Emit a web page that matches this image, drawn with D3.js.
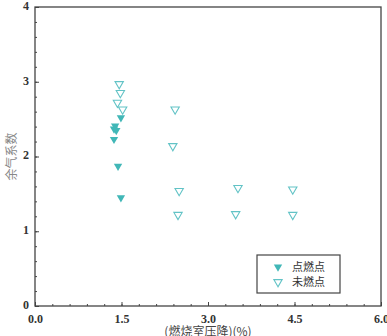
<!DOCTYPE html>
<html>
<head>
<meta charset="utf-8">
<script src="https://cdn.jsdelivr.net/npm/d3@7"></script>
<style>
  body { margin: 0; background: #fff; }
  svg { display: block; }
</style>
</head>
<body>
<script>
// chart size
let w = 387;
let h = 336;
let margin = {top: 7, right: 6, bottom: 30, left: 35};

// data
let ignitedX = [1.49, 1.39, 1.37, 1.41, 1.37, 1.44, 1.49];
let ignitedY = [2.52, 2.41, 2.37, 2.35, 2.23, 1.87, 1.45];
let unlitX = [1.46, 1.48, 1.43, 1.52, 2.43, 2.39, 2.5, 2.48, 3.52, 3.48, 4.47, 4.47];
let unlitY = [2.97, 2.85, 2.72, 2.63, 2.63, 2.14, 1.54, 1.22, 1.58, 1.23, 1.56, 1.22];
let xTicks = [0, 1.5, 3.0, 4.5, 6.0];
let yTicks = [0, 1, 2, 3, 4];
let legendNames = ["点燃点", "未燃点"];

let teal = "#41b7b7";
let lightTeal = "#62c3c6";
let serif = "'Liberation Serif', 'DejaVu Serif', serif";

let svg = d3.select("body")
    .append("svg")
    .attr("width", w)
    .attr("height", h);

let x = d3.scaleLinear().domain([0, 6]).range([margin.left, w - margin.right]);
let y = d3.scaleLinear().domain([0, 4]).range([h - margin.bottom, margin.top]);

// minor ticks (inside)
let xMinor = d3.range(0, 6.001, 0.3);
let yMinor = d3.range(0, 4.001, 0.2);

svg.append("g")
    .attr("transform", "translate(0," + y(0) + ")")
    .call(d3.axisBottom(x).tickValues(xMinor).tickSizeInner(-2).tickSizeOuter(0).tickFormat(""))
    .call(g => g.select(".domain").remove());
svg.append("g")
    .attr("transform", "translate(" + x(0) + ",0)")
    .call(d3.axisLeft(y).tickValues(yMinor).tickSizeInner(-2).tickSizeOuter(0).tickFormat(""))
    .call(g => g.select(".domain").remove());

// major ticks with labels
let xAxis = svg.append("g")
    .attr("transform", "translate(0," + y(0) + ")")
    .call(d3.axisBottom(x).tickValues(xTicks).tickSizeInner(-4).tickSizeOuter(0)
        .tickPadding(8).tickFormat(d3.format(".1f")));
let yAxis = svg.append("g")
    .attr("transform", "translate(" + x(0) + ",0)")
    .call(d3.axisLeft(y).tickValues(yTicks).tickSizeInner(-4).tickSizeOuter(0)
        .tickPadding(6).tickFormat(d3.format("d")));

[xAxis, yAxis].forEach(function(g) {
    g.attr("font-family", serif).attr("font-size", 12).attr("font-weight", "bold");
    g.select(".domain").remove();
    g.selectAll("text").attr("fill", "#333");
});
yAxis.selectAll("text").attr("dy", "0.2em");
svg.selectAll(".tick line").attr("stroke", "#444");

// frame
svg.append("rect")
    .attr("x", x(0))
    .attr("y", y(4))
    .attr("width", x(6) - x(0))
    .attr("height", y(0) - y(4))
    .attr("fill", "none")
    .attr("stroke", "#444")
    .attr("stroke-width", 1.3);

let tri = d3.symbol().type(d3.symbolTriangle).size(30);

// unlit points (open)
svg.selectAll(".unlit")
    .data(unlitX.map((d, i) => [d, unlitY[i]]))
    .enter()
    .append("path")
    .attr("class", "unlit")
    .attr("d", tri)
    .attr("transform", d => "translate(" + x(d[0]) + "," + y(d[1]) + ") rotate(180)")
    .attr("fill", "none")
    .attr("stroke", lightTeal)
    .attr("stroke-width", 1.1);

// ignited points (filled)
svg.selectAll(".ignited")
    .data(ignitedX.map((d, i) => [d, ignitedY[i]]))
    .enter()
    .append("path")
    .attr("class", "ignited")
    .attr("d", tri)
    .attr("transform", d => "translate(" + x(d[0]) + "," + y(d[1]) + ") rotate(180)")
    .attr("fill", teal);

// axis titles
svg.append("text")
    .attr("x", (x(0) + x(6)) / 2)
    .attr("y", 336)
    .attr("text-anchor", "middle")
    .attr("fill", "#444")
    .attr("font-family", "'Noto Sans CJK SC', sans-serif")
    .attr("font-size", 12)
    .text("(燃烧室压降)(%)");

svg.append("text")
    .attr("transform", "translate(16," + y(2) + ") rotate(-90)")
    .attr("text-anchor", "middle")
    .attr("fill", "#888")
    .attr("font-family", "'Noto Sans CJK SC', sans-serif")
    .attr("font-size", 12)
    .text("余气系数");

// legend
let legend = svg.append("g").attr("transform", "translate(257,255)");
legend.append("rect")
    .attr("width", 83)
    .attr("height", 38)
    .attr("fill", "#fff")
    .attr("stroke", "#444")
    .attr("stroke-width", 1.2);

legend.selectAll("path")
    .data(legendNames)
    .enter()
    .append("path")
    .attr("d", tri)
    .attr("transform", (d, i) => "translate(21," + (12 + i * 15) + ") rotate(180)")
    .attr("fill", (d, i) => i === 0 ? teal : "none")
    .attr("stroke", (d, i) => i === 0 ? "none" : lightTeal)
    .attr("stroke-width", 1.1);

legend.selectAll("text")
    .data(legendNames)
    .enter()
    .append("text")
    .attr("x", 35)
    .attr("y", (d, i) => 16 + i * 15)
    .attr("fill", "#333")
    .attr("font-family", "'Noto Sans CJK SC', sans-serif")
    .attr("font-size", 11)
    .text(d => d);
</script>
</body>
</html>
